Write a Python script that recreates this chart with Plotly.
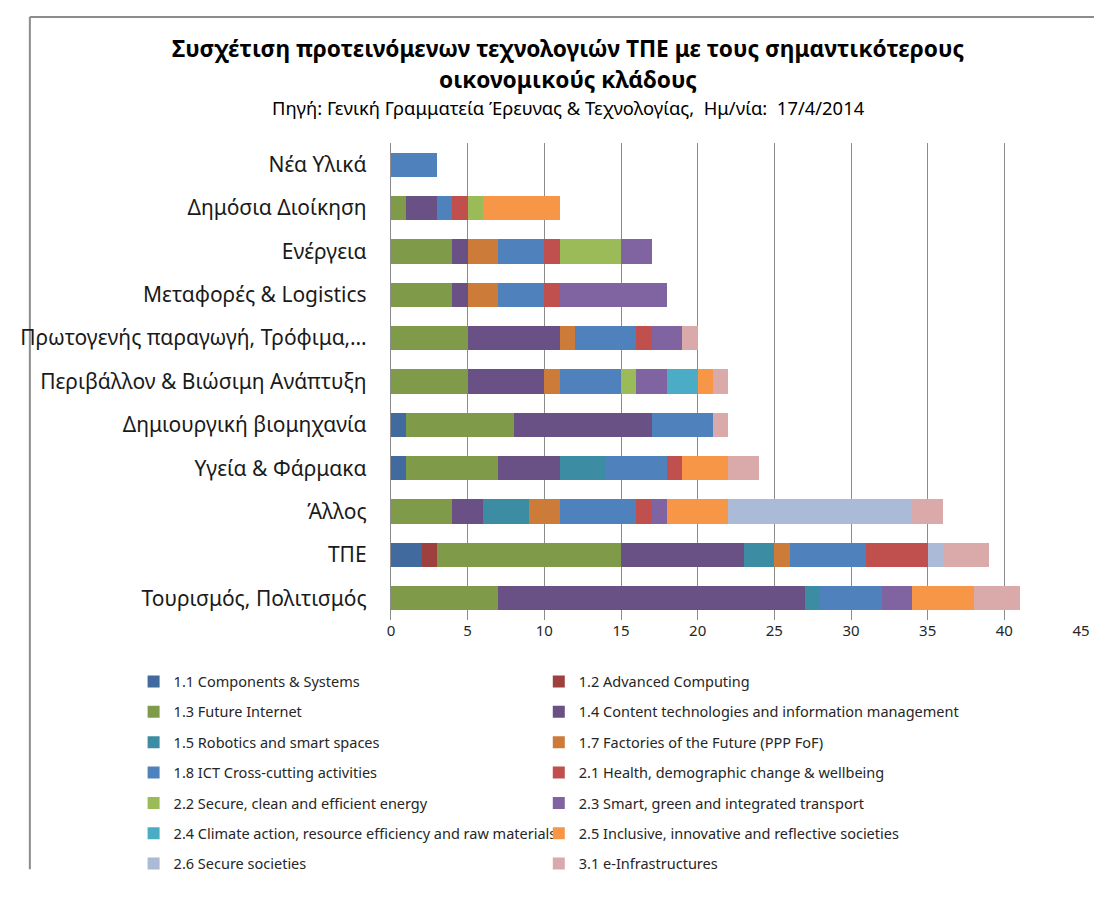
import plotly.graph_objects as go

categories = ["Νέα Υλικά", "Δημόσια Διοίκηση", "Ενέργεια", "Μεταφορές & Logistics",
              "Πρωτογενής παραγωγή, Τρόφιμα,…", "Περιβάλλον & Βιώσιμη Ανάπτυξη",
              "Δημιουργική βιομηχανία", "Υγεία & Φάρμακα", "Άλλος", "ΤΠΕ",
              "Τουρισμός, Πολιτισμός"]

series_names = ["1.1 Components & Systems", "1.2 Advanced Computing", "1.3 Future Internet",
                "1.4 Content technologies and information management",
                "1.5 Robotics and smart spaces", "1.7 Factories of the Future (PPP FoF)",
                "1.8 ICT Cross-cutting activities", "2.1 Health, demographic change & wellbeing",
                "2.2 Secure, clean and efficient energy", "2.3 Smart, green and integrated transport",
                "2.4 Climate action, resource efficiency and raw materials",
                "2.5 Inclusive, innovative and reflective societies",
                "2.6 Secure societies", "3.1 e-Infrastructures"]

s11 = [0, 0, 0, 0, 0, 0, 1, 1, 0, 2, 0]
s12 = [0, 0, 0, 0, 0, 0, 0, 0, 0, 1, 0]
s13 = [0, 1, 4, 4, 5, 5, 7, 6, 4, 12, 7]
s14 = [0, 2, 1, 1, 6, 5, 9, 4, 2, 8, 20]
s15 = [0, 0, 0, 0, 0, 0, 0, 3, 3, 2, 1]
s17 = [0, 0, 2, 2, 1, 1, 0, 0, 2, 1, 0]
s18 = [3, 1, 3, 3, 4, 4, 4, 4, 5, 5, 4]
s21 = [0, 1, 1, 1, 1, 0, 0, 1, 1, 4, 0]
s22 = [0, 1, 4, 0, 0, 1, 0, 0, 0, 0, 0]
s23 = [0, 0, 2, 7, 2, 2, 0, 0, 1, 0, 2]
s24 = [0, 0, 0, 0, 0, 2, 0, 0, 0, 0, 0]
s25 = [0, 5, 0, 0, 0, 1, 0, 3, 4, 0, 4]
s26 = [0, 0, 0, 0, 0, 0, 0, 0, 12, 1, 0]
s31 = [0, 0, 0, 0, 1, 1, 1, 2, 2, 3, 3]

series_values = [s11, s12, s13, s14, s15, s17, s18, s21, s22, s23, s24, s25, s26, s31]

colors = ["#416A9E", "#9E413E", "#7F9A48", "#695185", "#3C8DA3", "#CC7B38", "#4F81BD",
          "#C0504D", "#9BBB59", "#8064A2", "#4BACC6", "#F79646", "#AABAD7", "#D9AAA9"]

FONT = "Noto Sans"

fig = go.Figure()
for i, (name, vals, col) in enumerate(zip(series_names, series_values, colors)):
    fig.add_trace(go.Bar(
        y=categories, x=[v if v else None for v in vals], name=name, orientation="h",
        marker=dict(color=col, line=dict(width=0)),
        legend="legend" if i % 2 == 0 else "legend2",
        legendgroup=name,
    ))

# page body margin is 8px; work in page coordinates and convert
OFF = 8
W, H = 1094, 884
L, R, T, B = 382 - OFF, W - (1087 - OFF), 143 - OFF, H - (635 - OFF)
pw, ph = W - L - R, H - T - B


def px(x):
    return (x - OFF - L) / pw


def py(y):
    return (H - B - (y - OFF)) / ph


legend_common = dict(
    orientation="v", traceorder="grouped", tracegroupgap=8.5,
    font=dict(family=FONT, size=14.5, color="#262626"),
    bgcolor="rgba(0,0,0,0)", yanchor="top", xanchor="left",
    itemclick=False, itemdoubleclick=False,
)

border = dict(color="#8C8C8C", width=2)

fig.update_layout(
    width=W, height=H,
    margin=dict(l=L, r=R, t=T, b=B),
    barmode="stack", bargap=0.44,
    paper_bgcolor="white", plot_bgcolor="white",
    showlegend=True,
    legend=dict(x=px(119), y=py(682), **legend_common),
    legend2=dict(x=px(533), y=py(682), **legend_common),
    xaxis=dict(range=[0, 45], dtick=5, tick0=0, showgrid=True, gridcolor="#8C8C8C",
               gridwidth=1.3, zeroline=False, showline=False, ticks="",
               tickfont=dict(family=FONT, size=15, color="#262626"), fixedrange=True),
    yaxis=dict(autorange="reversed", showline=True, linecolor="#8C8C8C", linewidth=1.3,
               ticks="", ticklabelstandoff=19,
               tickfont=dict(family=FONT, size=21, color="#1a1a1a"), fixedrange=True),
    annotations=[
        dict(text="<b>Συσχέτιση προτεινόμενων τεχνολογιών ΤΠΕ με τους σημαντικότερους</b>",
             x=px(563), y=py(45.5), xref="paper", yref="paper", showarrow=False,
             font=dict(family=FONT, size=22.7, color="#000000"), xanchor="center", yanchor="middle"),
        dict(text="<b>οικονομικούς κλάδους</b>",
             x=px(563), y=py(77), xref="paper", yref="paper", showarrow=False,
             font=dict(family=FONT, size=22.7, color="#000000"), xanchor="center", yanchor="middle"),
        dict(text="Πηγή: Γενική Γραμματεία Έρευνας & Τεχνολογίας,  Ημ/νία:  17/4/2014",
             x=px(563), y=py(106.5), xref="paper", yref="paper", showarrow=False,
             font=dict(family=FONT, size=18.4, color="#000000"), xanchor="center", yanchor="middle"),
    ],
    shapes=[
        dict(type="line", xref="paper", yref="paper", x0=px(13), x1=px(W + OFF),
             y0=py(13), y1=py(13), line=border, layer="below"),
        dict(type="line", xref="paper", yref="paper", x0=px(13), x1=px(13),
             y0=py(13), y1=py(H + OFF), line=border, layer="below"),
    ],
)

fig.write_html("out.html")
